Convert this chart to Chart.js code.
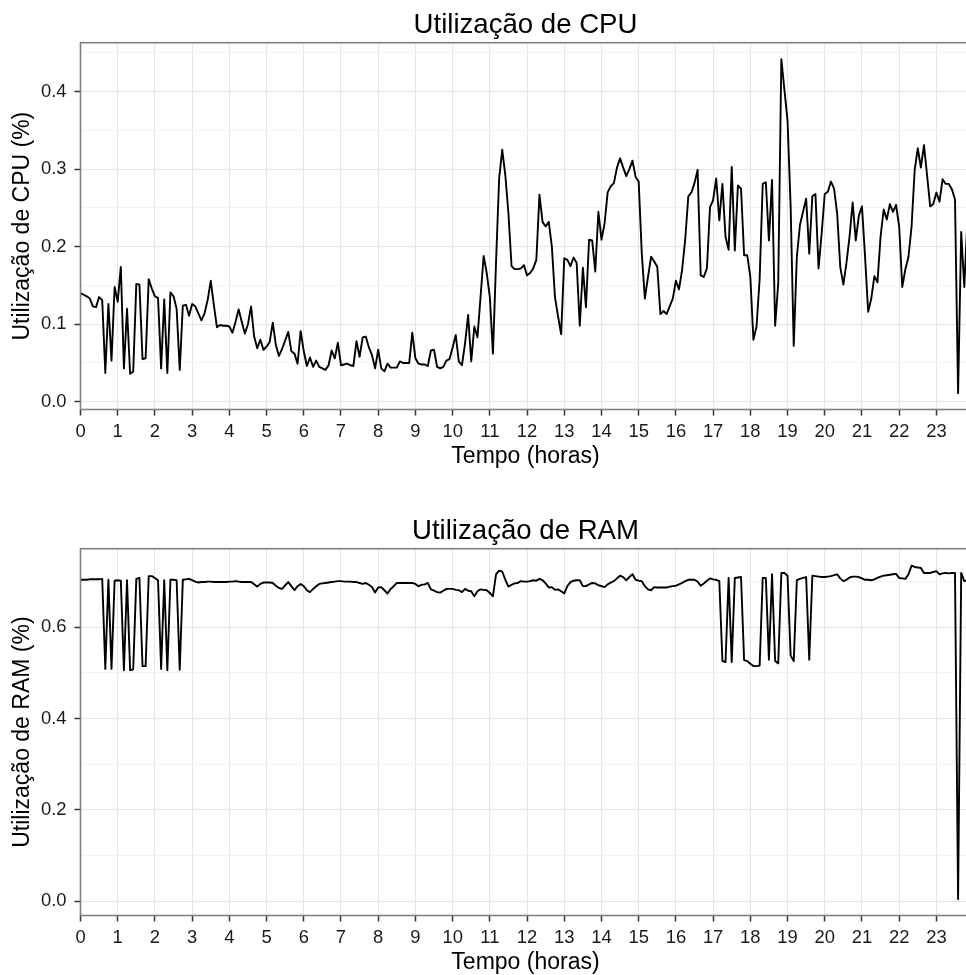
<!DOCTYPE html>
<html>
<head>
<meta charset="utf-8">
<title>Utilização de CPU e RAM</title>
<script src="https://cdn.jsdelivr.net/npm/chart.js@4.4.1/dist/chart.umd.min.js"></script>
<style>
  html, body { margin: 0; padding: 0; background: #fff; overflow: hidden; }
  #wrap { position: relative; width: 966px; height: 975px; overflow: hidden; }
  canvas { position: absolute; left: 0; }
  #cpuChart { top: 0; }
  #ramChart { top: 506px; }
</style>
</head>
<body>
<div id="wrap">
  <canvas id="cpuChart" width="971" height="470"></canvas>
  <canvas id="ramChart" width="971" height="470"></canvas>
</div>
<script>
// Samples every 5 minutes, one row per hour
const cpuUsage = [
    0.140, 0.138, 0.136, 0.133, 0.123, 0.122, 0.135, 0.131, 0.037, 0.126, 0.053, 0.148,
    0.129, 0.174, 0.043, 0.120, 0.036, 0.039, 0.152, 0.151, 0.055, 0.056, 0.158, 0.146,
    0.136, 0.134, 0.043, 0.132, 0.037, 0.141, 0.136, 0.120, 0.041, 0.124, 0.125, 0.111,
    0.126, 0.123, 0.114, 0.105, 0.114, 0.131, 0.156, 0.125, 0.096, 0.099, 0.098, 0.098,
    0.097, 0.089, 0.103, 0.119, 0.103, 0.088, 0.100, 0.123, 0.084, 0.069, 0.080, 0.067,
    0.071, 0.077, 0.102, 0.073, 0.059, 0.068, 0.079, 0.090, 0.065, 0.062, 0.049, 0.091,
    0.065, 0.046, 0.057, 0.045, 0.053, 0.045, 0.043, 0.041, 0.047, 0.066, 0.056, 0.076,
    0.047, 0.048, 0.049, 0.047, 0.046, 0.078, 0.058, 0.083, 0.084, 0.070, 0.060, 0.043,
    0.067, 0.043, 0.039, 0.049, 0.044, 0.044, 0.044, 0.052, 0.050, 0.050, 0.050, 0.089,
    0.056, 0.049, 0.048, 0.048, 0.046, 0.066, 0.067, 0.045, 0.043, 0.045, 0.053, 0.055,
    0.070, 0.086, 0.052, 0.047, 0.075, 0.112, 0.052, 0.097, 0.083, 0.135, 0.188, 0.166,
    0.135, 0.062, 0.180, 0.288, 0.325, 0.292, 0.243, 0.175, 0.171, 0.171, 0.172, 0.176,
    0.163, 0.166, 0.172, 0.183, 0.267, 0.232, 0.226, 0.232, 0.200, 0.135, 0.110, 0.087,
    0.185, 0.183, 0.175, 0.186, 0.179, 0.098, 0.173, 0.122, 0.209, 0.208, 0.168, 0.245,
    0.209, 0.230, 0.270, 0.278, 0.282, 0.302, 0.314, 0.302, 0.291, 0.300, 0.311, 0.290,
    0.284, 0.191, 0.133, 0.161, 0.187, 0.181, 0.174, 0.113, 0.117, 0.113, 0.123, 0.133,
    0.156, 0.145, 0.170, 0.209, 0.265, 0.270, 0.282, 0.299, 0.163, 0.161, 0.172, 0.251,
    0.260, 0.288, 0.234, 0.281, 0.213, 0.196, 0.303, 0.195, 0.279, 0.275, 0.189, 0.189,
    0.161, 0.080, 0.097, 0.158, 0.281, 0.283, 0.208, 0.286, 0.098, 0.153, 0.442, 0.402,
    0.363, 0.252, 0.072, 0.187, 0.228, 0.245, 0.262, 0.191, 0.265, 0.268, 0.172, 0.217,
    0.268, 0.271, 0.284, 0.275, 0.243, 0.174, 0.151, 0.179, 0.213, 0.257, 0.208, 0.240,
    0.252, 0.187, 0.116, 0.133, 0.162, 0.154, 0.213, 0.248, 0.235, 0.255, 0.245, 0.254,
    0.226, 0.148, 0.171, 0.187, 0.226, 0.299, 0.327, 0.302, 0.331, 0.292, 0.252, 0.255,
    0.270, 0.258, 0.287, 0.281, 0.281, 0.274, 0.261, 0.011, 0.219, 0.148, 0.234, 0.240
];

const ramUsage = [
    0.704, 0.704, 0.704, 0.705, 0.705, 0.705, 0.705, 0.706, 0.509, 0.704, 0.509, 0.702,
    0.703, 0.702, 0.506, 0.703, 0.506, 0.508, 0.706, 0.708, 0.515, 0.515, 0.712, 0.712,
    0.708, 0.703, 0.509, 0.703, 0.506, 0.704, 0.704, 0.703, 0.507, 0.704, 0.705, 0.706,
    0.703, 0.700, 0.698, 0.699, 0.699, 0.700, 0.700, 0.699, 0.699, 0.699, 0.699, 0.699,
    0.700, 0.700, 0.701, 0.700, 0.699, 0.699, 0.699, 0.699, 0.694, 0.689, 0.695, 0.698,
    0.698, 0.698, 0.697, 0.691, 0.686, 0.684, 0.692, 0.699, 0.690, 0.681, 0.690, 0.695,
    0.690, 0.681, 0.677, 0.684, 0.690, 0.695, 0.696, 0.697, 0.698, 0.699, 0.700, 0.701,
    0.701, 0.700, 0.700, 0.700, 0.699, 0.699, 0.697, 0.695, 0.697, 0.693, 0.688, 0.676,
    0.687, 0.688, 0.681, 0.674, 0.684, 0.690, 0.697, 0.697, 0.697, 0.697, 0.697, 0.697,
    0.695, 0.690, 0.693, 0.694, 0.697, 0.683, 0.680, 0.677, 0.676, 0.680, 0.684, 0.684,
    0.684, 0.682, 0.681, 0.677, 0.684, 0.680, 0.679, 0.668, 0.679, 0.683, 0.682, 0.681,
    0.675, 0.668, 0.716, 0.724, 0.722, 0.704, 0.689, 0.693, 0.696, 0.697, 0.701, 0.700,
    0.700, 0.701, 0.703, 0.702, 0.706, 0.703, 0.696, 0.687, 0.688, 0.682, 0.683, 0.679,
    0.674, 0.690, 0.699, 0.702, 0.703, 0.703, 0.690, 0.690, 0.694, 0.697, 0.696, 0.692,
    0.690, 0.688, 0.694, 0.698, 0.701, 0.707, 0.713, 0.710, 0.703, 0.710, 0.716, 0.704,
    0.702, 0.701, 0.690, 0.683, 0.681, 0.688, 0.687, 0.687, 0.687, 0.687, 0.689, 0.690,
    0.691, 0.694, 0.697, 0.701, 0.704, 0.704, 0.704, 0.700, 0.691, 0.696, 0.702, 0.707,
    0.705, 0.704, 0.701, 0.526, 0.524, 0.708, 0.524, 0.708, 0.709, 0.710, 0.528, 0.526,
    0.520, 0.515, 0.515, 0.516, 0.708, 0.708, 0.529, 0.716, 0.526, 0.521, 0.719, 0.719,
    0.713, 0.538, 0.526, 0.703, 0.706, 0.708, 0.710, 0.529, 0.713, 0.712, 0.711, 0.710,
    0.710, 0.711, 0.712, 0.714, 0.716, 0.707, 0.701, 0.704, 0.709, 0.711, 0.711, 0.710,
    0.707, 0.704, 0.704, 0.703, 0.705, 0.708, 0.711, 0.713, 0.714, 0.715, 0.716, 0.717,
    0.708, 0.707, 0.706, 0.716, 0.735, 0.732, 0.731, 0.730, 0.719, 0.719, 0.719, 0.721,
    0.723, 0.716, 0.718, 0.719, 0.718, 0.719, 0.719, 0.005, 0.719, 0.701, 0.703, 0.705
];

// time of each sample in hours (5 minute steps)
const hours = cpuUsage.map((_, i) => i / 12);

const hourTicks = [0, 1, 2, 3, 4, 5, 6, 7, 8, 9, 10, 11, 12, 13, 14, 15, 16, 17, 18, 19, 20, 21, 22, 23];
const cpuYTicks = [0, 0.1, 0.2, 0.3, 0.4];
const cpuYMinor = [0.05, 0.15, 0.25, 0.35, 0.45];
const ramYTicks = [0, 0.2, 0.4, 0.6];
const ramYMinor = [0.1, 0.3, 0.5, 0.7];

const FONT = "'Liberation Sans', Arial, Helvetica, sans-serif";

// grey frame around the plot area, like theme_bw
const panelBorder = {
    id: 'panelBorder',
    afterDatasetsDraw(chart) {
        const { ctx, chartArea } = chart;
        ctx.save();
        ctx.strokeStyle = '#808080';
        ctx.lineWidth = 1.6;
        ctx.strokeRect(chartArea.left, chartArea.top,
            chartArea.right - chartArea.left, chartArea.bottom - chartArea.top);
        ctx.restore();
    }
};

function isMajor(value, majors) {
    return majors.some(m => Math.abs(m - value) < 1e-9);
}

function makeChart(canvasId, title, yTitle, values, yMin, yMax, yTicks, yMinor) {
    const ctx = document.getElementById(canvasId).getContext('2d');
    const yAll = yTicks.concat(yMinor).sort((a, b) => a - b);

    return new Chart(ctx, {
        type: 'line',
        data: {
            labels: hours,
            datasets: [{
                data: values,
                borderColor: '#000',
                borderWidth: 1.9,
                borderJoinStyle: 'round',
                pointRadius: 0,
                tension: 0,
                fill: false
            }]
        },
        options: {
            responsive: false,
            animation: false,
            devicePixelRatio: 1,
            layout: { padding: { left: 0, right: 0.5, top: 0, bottom: 0 } },
            plugins: {
                legend: { display: false },
                tooltip: { enabled: false },
                title: {
                    display: true,
                    text: title,
                    fullSize: false,
                    color: '#000',
                    font: { family: FONT, size: 27.6, weight: 'normal' },
                    padding: { top: 8.4, bottom: 1.2 }
                }
            },
            scales: {
                x: {
                    type: 'linear',
                    min: 0,
                    max: hours[hours.length - 1],
                    afterBuildTicks: s => { s.ticks = hourTicks.map(v => ({ value: v })); },
                    afterFit: s => { s.height = 60.5; },
                    border: { display: false },
                    grid: {
                        color: '#e5e5e5',
                        lineWidth: 1,
                        tickColor: '#333',
                        tickLength: 6,
                        tickWidth: 1.5
                    },
                    ticks: {
                        autoSkip: false,
                        maxRotation: 0,
                        padding: 5,
                        color: '#1a1a1a',
                        font: { family: FONT, size: 18.4 },
                        callback: v => String(v)
                    },
                    title: {
                        display: true,
                        text: 'Tempo (horas)',
                        color: '#000',
                        font: { family: FONT, size: 23 },
                        padding: { top: 0, bottom: 0 }
                    }
                },
                y: {
                    type: 'linear',
                    min: yMin,
                    max: yMax,
                    afterBuildTicks: s => { s.ticks = yAll.map(v => ({ value: v })); },
                    afterFit: s => { s.width = 80.5; },
                    border: { display: false },
                    grid: {
                        color: c => isMajor(c.tick.value, yTicks) ? '#e5e5e5' : '#f3f3f3',
                        lineWidth: 1,
                        tickColor: c => isMajor(c.tick.value, yTicks) ? '#333' : 'rgba(0,0,0,0)',
                        tickLength: 6,
                        tickWidth: 1.5
                    },
                    ticks: {
                        autoSkip: false,
                        padding: 8,
                        color: '#1a1a1a',
                        font: { family: FONT, size: 18.4 },
                        callback: v => isMajor(v, yTicks) ? v.toFixed(1) : ''
                    },
                    title: {
                        display: true,
                        text: yTitle,
                        color: '#000',
                        font: { family: FONT, size: 23 },
                        padding: { top: 9.2, bottom: 0 }
                    }
                }
            }
        },
        plugins: [panelBorder]
    });
}

makeChart('cpuChart', 'Utilização de CPU', 'Utilização de CPU (%)', cpuUsage, -0.0101, 0.4632, cpuYTicks, cpuYMinor);
makeChart('ramChart', 'Utilização de RAM', 'Utilização de RAM (%)', ramUsage, -0.031, 0.772, ramYTicks, ramYMinor);
</script>
</body>
</html>
